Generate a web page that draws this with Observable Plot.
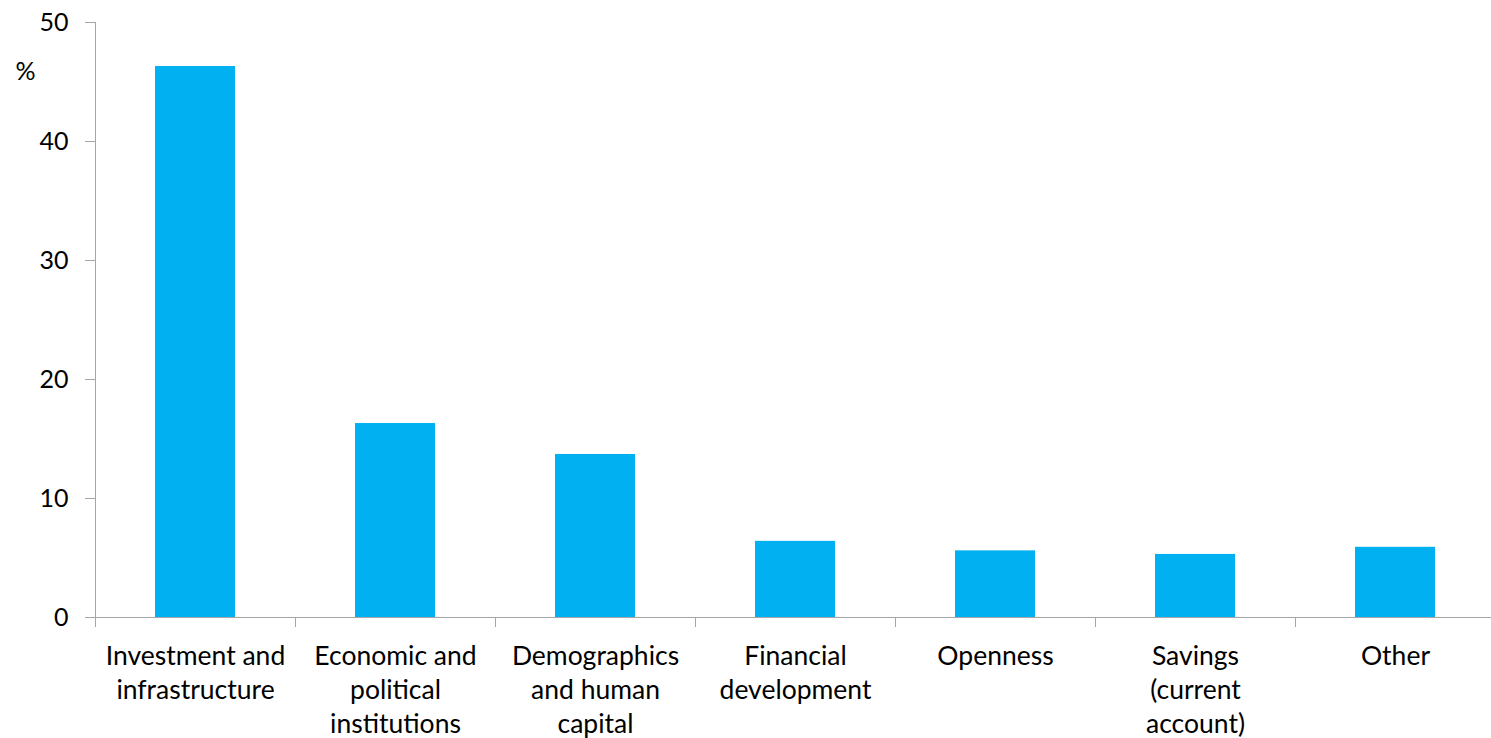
<!DOCTYPE html>
<html><head><meta charset="utf-8">
<script src="https://cdn.jsdelivr.net/npm/d3@7"></script>
<script src="https://cdn.jsdelivr.net/npm/@observablehq/plot@0.6"></script>
<style>html,body{margin:0;padding:0;background:#fff} svg{display:block}</style>
</head><body><div id="chart"></div>
<script>
const categories = [
  "Investment and\ninfrastructure",
  "Economic and\npolitical\ninstitutions",
  "Demographics\nand human\ncapital",
  "Financial\ndevelopment",
  "Openness",
  "Savings\n(current\naccount)",
  "Other"
];
const values = [46.3, 16.3, 13.7, 6.4, 5.6, 5.3, 5.9];
const yTicks = [0, 10, 20, 30, 40, 50];
const unitLabel = ["%"];

const data = categories.map((c, i) => ({category: c, value: values[i]}));
const axisGrey = "#A6A6A6";

const chart = Plot.plot({
  width: 1491, height: 738,
  marginLeft: 95, marginRight: 0, marginTop: 22, marginBottom: 121,
  style: {fontFamily: "Lato, 'Open Sans', sans-serif", background: "#fff", color: "#000"},
  x: {domain: categories, range: [95, 1495], padding: 0},
  y: {domain: [0, 50]},
  marks: [
    Plot.barY(data, {x: "category", y: "value", fill: "#00B0F0", insetLeft: 60, insetRight: 60}),
    Plot.frame({anchor: "left", stroke: axisGrey}),
    Plot.ruleY([0], {stroke: axisGrey}),
    Plot.axisY({ticks: yTicks, tickSize: 10, tickPadding: 17, stroke: axisGrey, fill: "#000", fontSize: 25, label: null}),
    Plot.axisX({ticks: categories, tickSize: 10, dx: -100, tickFormat: () => "", stroke: axisGrey, label: null}),
    Plot.axisX({ticks: categories, tickSize: 0, tickPadding: 23, fontSize: 26.5, lineHeight: 1.29, fill: "#000", label: null}),
    Plot.text(unitLabel, {frameAnchor: "top-left", dx: -80, dy: 40, fontSize: 25, fill: "#000"})
  ]
});
document.getElementById("chart").appendChild(chart);
</script>
</body></html>
